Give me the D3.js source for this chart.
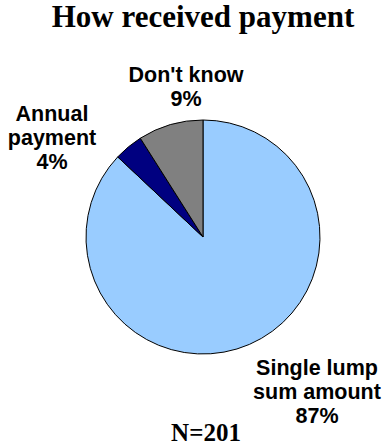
<!DOCTYPE html>
<html lang="en">
<head>
    <meta charset="UTF-8">
    <title>How received payment</title>
    <script src="https://cdn.jsdelivr.net/npm/d3@7"></script>
    <style>
        body { margin: 0; background: #fff; }
        .title { font-family: "Liberation Serif", "Times New Roman", serif; font-weight: bold; }
        .lbl { font-family: "Liberation Sans", Arial, sans-serif; font-weight: bold; }
    </style>
</head>
<body>
    <div id="chart"></div>
    <script>
        var w = 390;
        var h = 448;

        // data
        var categories = ["Single lump sum amount", "Annual payment", "Don't know"];
        var shares = [87, 4, 9];
        var labelLines = [["Single lump", "sum amount"], ["Annual", "payment"], ["Don't know"]];
        var colors = ["#99ccff", "#000080", "#808080"];
        var sampleSize = 201;

        var cx = 203, cy = 237, r = 117;
        // where each label's first line sits, relative to the pie centre
        var labelOffset = [[114, 138], [-151, -116], [-17, -155]];
        var lineH = 24;

        var svg = d3.select("#chart")
            .append("svg")
            .attr("width", w)
            .attr("height", h);

        svg.append("text")
            .attr("class", "title")
            .attr("x", 203)
            .attr("y", 27)
            .attr("text-anchor", "middle")
            .style("font-size", "31px")
            .text("How received payment");

        var data = categories.map((c, i) => ({ name: c, value: shares[i], i: i }));

        var pie = d3.pie().sort(null).value(d => d.value);
        var arc = d3.arc().innerRadius(0).outerRadius(r);

        var g = svg.append("g")
            .attr("transform", `translate(${cx},${cy})`);

        g.selectAll("path")
            .data(pie(data))
            .enter()
            .append("path")
            .attr("d", arc)
            .attr("fill", d => colors[d.data.i])
            .attr("stroke", "#000")
            .attr("stroke-width", 1);

        // labels: name lines then the percentage
        var labels = g.selectAll(".lbl")
            .data(data)
            .enter()
            .append("text")
            .attr("class", "lbl")
            .attr("text-anchor", "middle")
            .style("font-size", "21.5px")
            .attr("fill", "#000");

        labels.each(function(d) {
            var t = d3.select(this);
            var lines = labelLines[d.i].concat([d.value + "%"]);
            var off = labelOffset[d.i];
            lines.forEach(function(line, k) {
                t.append("tspan")
                    .attr("x", off[0])
                    .attr("y", off[1] + k * lineH)
                    .text(line);
            });
        });

        svg.append("text")
            .attr("class", "title")
            .attr("x", 206)
            .attr("y", 441)
            .attr("text-anchor", "middle")
            .style("font-size", "25px")
            .text("N=" + sampleSize);
    </script>
</body>
</html>
